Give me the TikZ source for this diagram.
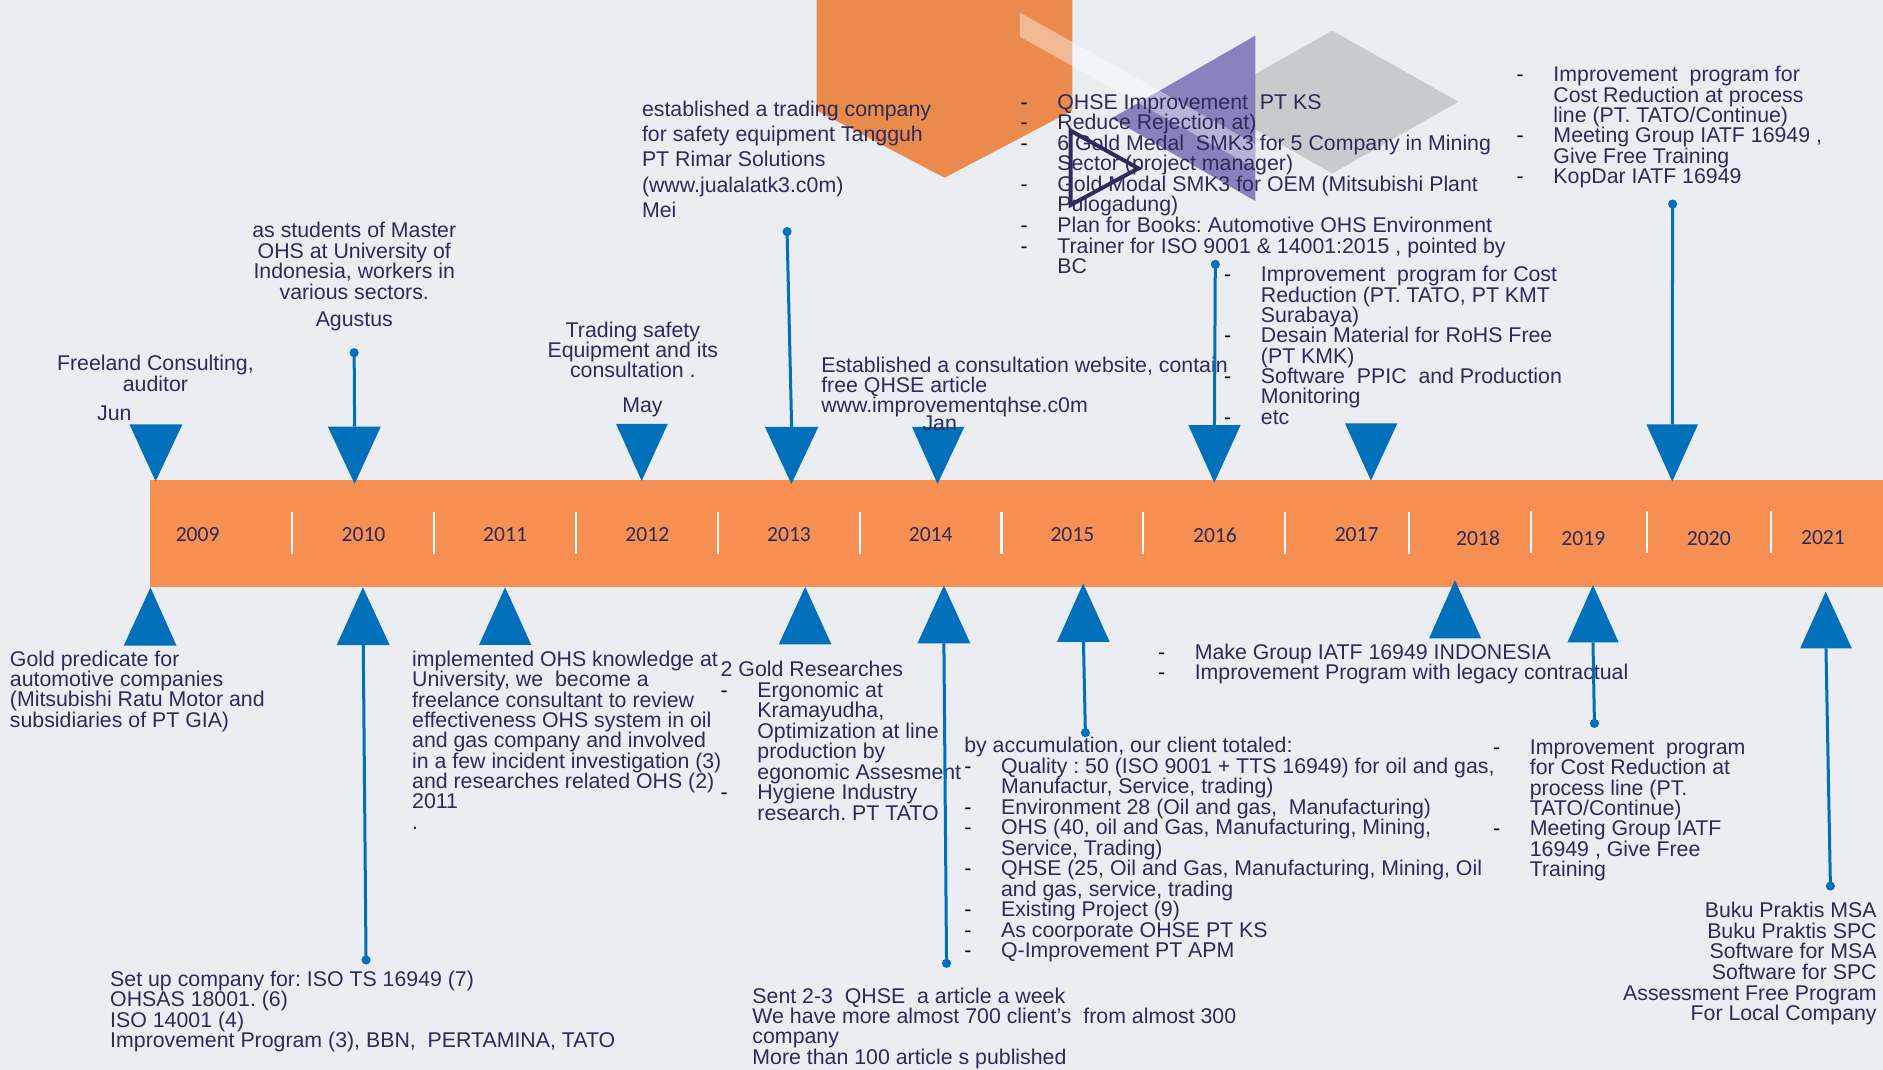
\documentclass[tikz,border=0pt]{standalone}
\usepackage{fontspec}
\setmainfont{Liberation Sans}
\newfontfamily\yearfont{Carlito}
\definecolor{bg}{RGB}{236,237,242}
\definecolor{barc}{RGB}{247,144,82}
\definecolor{penta}{RGB}{235,138,77}
\definecolor{tblue}{RGB}{0,112,186}
\definecolor{navy}{RGB}{42,44,90}
\definecolor{purp}{RGB}{135,129,190}
\definecolor{diam}{RGB}{200,202,205}
\definecolor{outl}{RGB}{43,43,92}
\newlength\dashw \setlength\dashw{30.6pt}
\newcommand\dl[1]{\makebox[\dashw][l]{\textcolor{black}{-}}#1}
\newcommand\cl[1]{\hspace*{\dashw}#1}
\newcommand\tstr{\rule{0pt}{14pt}}
\newcommand\fz[1]{\fontsize{17.75}{#1}\selectfont\frenchspacing}
\lineskiplimit=-40pt
\lineskip=0pt
\tikzset{
  txt/.style={inner sep=0pt, text=navy, align=left, anchor=north west, font=\fz{17.1}},
  txtc/.style={inner sep=0pt, text=navy, align=center, anchor=north, font=\fz{17.1}},
  txtr/.style={inner sep=0pt, text=navy, align=right, anchor=north east, font=\fz{17.1}},
  yr/.style={inner sep=0pt, text=navy, font=\yearfont\fontsize{18}{20}\selectfont},
  tri/.style={fill=tblue},
  stem/.style={draw=tblue, line width=2.5pt},
  dot/.style={circle, fill=tblue, inner sep=0pt, minimum size=7.6pt},
  sep/.style={draw=white, line width=1.8pt}
}
\begin{document}
\frenchspacing
\begin{tikzpicture}[x=1pt,y=-1pt]
\path[use as bounding box, fill=bg] (0,0) rectangle (1568,891);
% decorative shapes
\fill[diam] (1109.4,25.5) -- (1214.4,84.7) -- (1109.4,144.4) -- (1004.4,84.7) -- cycle;
\fill[purp] (1045.3,29.7) -- (1045.3,167.4) -- (925.6,98.5) -- cycle;
\fill[penta] (680,0) -- (893,0) -- (893,92) -- (786.5,148) -- (680,92) -- cycle;
\fill[white, opacity=0.4] (849.3,10.5) -- (1045.3,120.2) -- (1045.3,140.2) -- (849.3,30.5) -- cycle;
% bar
\fill[barc] (125,400) rectangle (1568,488.5);
\foreach \sx in {243.2,361.7,479.6,598,716,834,952,1070.3,1173.6}
  \draw[sep] (\sx,426.6) -- (\sx,461.6);
\foreach \sx in {1274.6,1371.8,1475}
  \draw[sep] (\sx,425.5) -- (\sx,460.5);
\node[yr] (y09) at (164.6,445.5) {2009};
\node[yr] (y10) at (302.7,445.5) {2010};
\node[yr] (y11) at (420.6,445.5) {2011};
\node[yr] (y12) at (539,445.5) {2012};
\node[yr] (y13) at (657,445.5) {2013};
\node[yr] (y14) at (775,445.5) {2014};
\node[yr] (y15) at (893,445.5) {2015};
\node[yr] (y16) at (1011.7,445.5) {2016};
\node[yr] (y17) at (1129.7,445.5) {2017};
\node[yr] (y18) at (1230.8,448.3) {2018};
\node[yr] (y19) at (1318.5,448.3) {2019};
\node[yr] (y20) at (1423,448.3) {2020};
\node[yr] (y21) at (1518,447.5) {2021};
% triangles above (pointing down)
\fill[tri] (107.8,353.3) -- (151.9,353.3) -- (129.6,400.8) -- cycle;
\fill[tri] (273,355.3) -- (317,355.3) -- (295.3,403) -- cycle;
\fill[tri] (513,353) -- (556,353) -- (534.3,400.5) -- cycle;
\fill[tri] (637,355.5) -- (681.4,355.5) -- (659,403) -- cycle;
\fill[tri] (759.5,355.5) -- (803,355.5) -- (780.7,403) -- cycle;
\fill[tri] (989.5,353.9) -- (1033.1,353.9) -- (1011.2,401.9) -- cycle;
\fill[tri] (1120,352.5) -- (1163.6,352.5) -- (1141.6,400.2) -- cycle;
\fill[tri] (1371,353.3) -- (1414,353.3) -- (1392.5,401) -- cycle;
% triangles below (pointing up)
\fill[tri] (103,537.7) -- (147,537.7) -- (125.3,489.2) -- cycle;
\fill[tri] (280.4,537.1) -- (324.5,537.1) -- (302.2,489) -- cycle;
\fill[tri] (398.9,537) -- (442.4,537) -- (420.6,489) -- cycle;
\fill[tri] (648.5,536.6) -- (692.3,536.6) -- (670.5,488.6) -- cycle;
\fill[tri] (764,535.7) -- (808,535.7) -- (786,487.5) -- cycle;
\fill[tri] (880.3,534.4) -- (924,534.4) -- (902,485.8) -- cycle;
\fill[tri] (1190,531.6) -- (1233.4,531.6) -- (1211.5,483) -- cycle;
\fill[tri] (1305.2,534.9) -- (1347.9,534.9) -- (1326.5,487.2) -- cycle;
\fill[tri] (1499,539.9) -- (1542,539.9) -- (1520.3,492.7) -- cycle;
% texts above
\node[txtc, font=\fz{17.5}] (t09) at (129.4,294.6) {\tstr Freeland Consulting,\\auditor};
\node[txtc] (m09) at (95.2,335.7) {\tstr Jun};
\node[txtc, font=\fz{17.2}] (t10) at (295,183.6) {\tstr as students of Master\\OHS at University of\\Indonesia, workers in\\various sectors.};
\node[txtc] (m10) at (295,257.4) {\tstr Agustus};
\node[txtc, font=\fz{16.8}] (t12) at (527,266.9) {\tstr Trading safety\\Equipment and its\\consultation .};
\node[txtc] (m12) at (535,329.4) {\tstr May};
\node[txt, font=\fz{21.1}] (t13) at (534.4,82.6) {\tstr established a trading company\\for safety equipment Tangguh\\PT Rimar Solutions\\(www.jualalatk3.c0m)\\Mei};
\node[txt, font=\fz{16.7}] (t14) at (683.7,296) {\tstr Established a consultation website, contain\\free QHSE article\\www.improvementqhse.c0m};
\node[txtc] (m14) at (782.5,344) {\tstr Jan};
\node[txt] (t16) at (849.7,76.8) {\tstr\dl{QHSE Improvement\ \ PT KS}\\\dl{Reduce Rejection at)}\\\dl{6 Gold Medal\ \ SMK3 for 5 Company in Mining}\\\cl{Sector (project manager)}\\\dl{Gold Modal SMK3 for OEM (Mitsubishi Plant}\\\cl{Pulogadung)}\\\dl{Plan for Books: Automotive OHS Environment}\\\dl{Trainer for ISO 9001 \& 14001:2015 , pointed by}\\\cl{BC}};
\node[txt, font=\fz{16.9}] (t17) at (1019.2,220.6) {\tstr\dl{Improvement\ \ program for Cost}\\\cl{Reduction (PT. TATO, PT KMT}\\\cl{Surabaya)}\\\dl{Desain Material for RoHS Free}\\\cl{(PT KMK)}\\\dl{Software\ \ PPIC\ \ and Production}\\\cl{Monitoring}\\\dl{etc}};
\node[txt, font=\fz{16.9}] (t20) at (1262.8,54) {\tstr\dl{Improvement\ \ program for}\\\cl{Cost Reduction at process}\\\cl{line (PT. TATO/Continue)}\\\dl{Meeting Group IATF 16949 ,}\\\cl{Give Free Training}\\\dl{KopDar IATF 16949}};
% texts below
\node[txt, font=\fz{16.9}] (b09) at (8.1,540.6) {\tstr Gold predicate for\\automotive companies\\(Mitsubishi Ratu Motor and\\subsidiaries of PT GIA)};
\node[txt, font=\fz{16.97}] (b11) at (343,540.6) {\tstr implemented OHS knowledge at\\University, we\ \ become a\\freelance consultant to review\\effectiveness OHS system in oil\\and gas company and involved\\in a few incident investigation (3)\\and researches related OHS (2)\\2011\\.};
\node[txt] (b10) at (91.6,807.1) {\tstr Set up company for: ISO TS 16949 (7)\\OHSAS 18001. (6)\\ISO 14001 (4)\\Improvement Program (3), BBN,\ \ PERTAMINA, TATO};
\node[txt, font=\fz{17.06}] (b13) at (599.9,549.5) {\tstr 2 Gold Researches\\\dl{Ergonomic at}\\\cl{Kramayudha,}\\\cl{Optimization at line}\\\cl{production by}\\\cl{egonomic Assesment}\\\dl{Hygiene Industry}\\\cl{research. PT TATO}};
\node[txt, font=\fz{17.07}] (b15) at (802.8,612.5) {\tstr by accumulation, our client totaled:\\\dl{Quality : 50 (ISO 9001 + TTS 16949) for oil and gas,}\\\cl{Manufactur, Service, trading)}\\\dl{Environment 28 (Oil and gas,\ \ Manufacturing)}\\\dl{OHS (40, oil and Gas, Manufacturing, Mining,}\\\cl{Service, Trading)}\\\dl{QHSE (25, Oil and Gas, Manufacturing, Mining, Oil}\\\cl{and gas, service, trading}\\\dl{Existing Project (9)}\\\dl{As coorporate OHSE PT KS}\\\dl{Q-Improvement PT APM}};
\node[txt, font=\fz{17.0}] (b14) at (626.4,821) {\tstr Sent 2-3\ \ QHSE\ \ a article a week\\We have more almost 700 client’s\ \ from almost 300\\company\\More than 100 article s published};
\node[txt, font=\fz{16.6}] (b18) at (964.1,534.8) {\tstr\dl{Make Group IATF 16949 INDONESIA}\\\dl{Improvement Program with legacy contractual}};
\node[txt, font=\fz{17.0}] (b19) at (1243.1,613.9) {\tstr\dl{Improvement\ \ program}\\\cl{for Cost Reduction at}\\\cl{process line (PT.}\\\cl{TATO/Continue)}\\\dl{Meeting Group IATF}\\\cl{16949 , Give Free}\\\cl{Training}};
\node[txtr, font=\fz{17.2}] (b21) at (1562.9,749.9) {\tstr Buku Praktis MSA\\Buku Praktis SPC\\Software for MSA\\Software for SPC\\Assessment Free Program\\For Local Company};
% play outline
\draw[outl, line width=3.3pt, line join=miter] (891.5,108.8) -- (947.9,140.2) -- (891.5,170.7) -- cycle;
% stems and dots
\coordinate (a10) at (295.3,355.3);
\coordinate (a13) at (659.2,355.5);
\coordinate (a16) at (1011.3,353.9);
\coordinate (a20) at (1392.5,353.3);
\coordinate (c10) at (302.5,537.1);
\coordinate (c14) at (786,535.7);
\coordinate (c15) at (902.2,534.4);
\coordinate (c19) at (1326.5,534.9);
\coordinate (c21) at (1520.5,539.9);
\node[dot] (d10) at (294.9,293.7) {};
\node[dot] (d13) at (655.4,192.9) {};
\node[dot] (d16) at (1012,220.1) {};
\node[dot] (d20) at (1392.8,169.9) {};
\node[dot] (e10) at (304.8,799.4) {};
\node[dot] (e14) at (788.2,802.2) {};
\node[dot] (e15) at (903.8,610.1) {};
\node[dot] (e19) at (1327.7,602.4) {};
\node[dot] (e21) at (1524.2,737.8) {};
\draw[stem] (d10.center) -- (a10);
\draw[stem] (d13.center) -- (a13);
\draw[stem] (d16.center) -- (a16);
\draw[stem] (d20.center) -- (a20);
\draw[stem] (c10) -- (e10.center);
\draw[stem] (c14) -- (e14.center);
\draw[stem] (c15) -- (e15.center);
\draw[stem] (c19) -- (e19.center);
\draw[stem] (c21) -- (e21.center);
\end{tikzpicture}
\end{document}
